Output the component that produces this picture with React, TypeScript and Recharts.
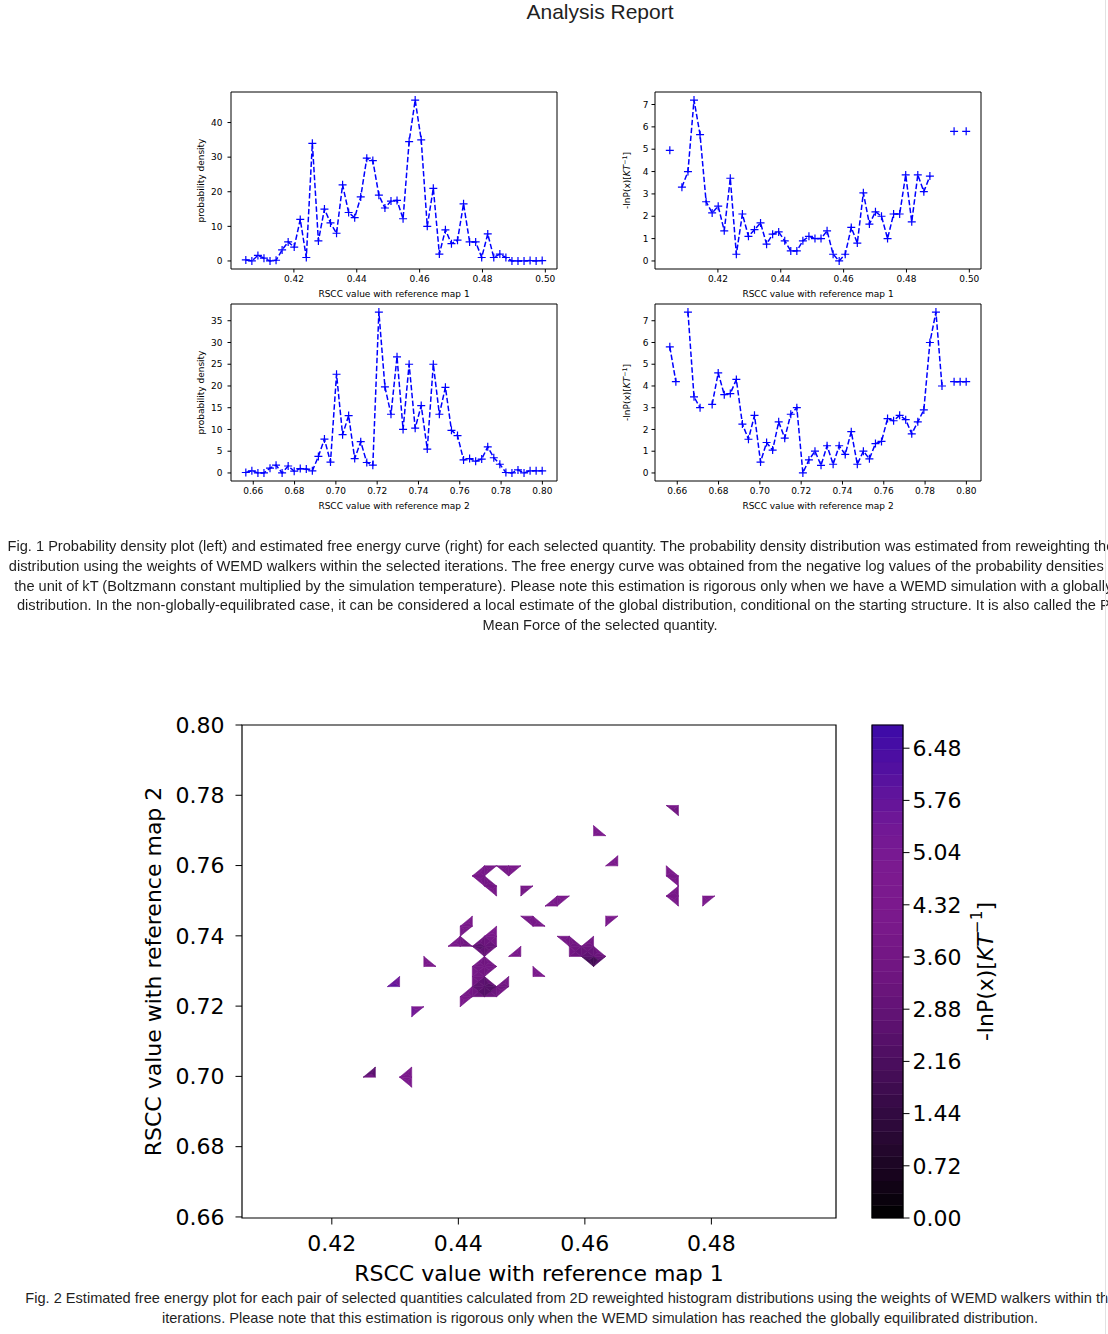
import React from "react";
import {
  ComposedChart,
  Line,
  LineChart,
  ReferenceArea,
  Scatter,
  XAxis,
  YAxis,
} from "recharts";

const FONT_MPL = "'DejaVu Sans', sans-serif";
const FONT_PAGE = "'Liberation Sans', Arial, Helvetica, sans-serif";

// regular histogram bin centres
const linspace = (lo: number, hi: number, n: number) =>
  Array.from({ length: n }, (_, k) => lo + ((hi - lo) * k) / (n - 1));

// ---- 1D data (bin centres) ----
const rsccMap1 = linspace(0.4047, 0.499, 50);
const rsccMap2 = linspace(0.6564, 0.7999, 50);

const densityMap1 = [
  0.3, 0, 1.6, 0.8, 0, 0.2, 3.2, 5.5, 4, 12,
  1, 34, 5.8, 15, 11, 8, 22, 14, 12.5, 18.5,
  29.7, 29, 19, 15.3, 17.3, 17.5, 12.2, 34.5, 46.5, 35,
  10, 21, 2, 9, 5, 6, 16.5, 5.5, 5.5, 1,
  7.8, 1, 2, 1, 0, 0, 0, 0.1, 0, 0.1,
];

const freeEnergyMap1 = [
  4.95, null, 3.3, 4.0, 7.2, 5.65, 2.65, 2.15, 2.45, 1.35,
  3.7, 0.3, 2.1, 1.1, 1.4, 1.7, 0.75, 1.2, 1.3, 0.9,
  0.45, 0.45, 0.9, 1.1, 1.0, 1.0, 1.35, 0.3, 0, 0.3,
  1.5, 0.8, 3.05, 1.65, 2.2, 2.0, 1.0, 2.1, 2.1, 3.85,
  1.75, 3.85, 3.1, 3.8, null, null, null, 5.8, null, 5.8,
];

const densityMap2 = [
  0.1, 0.5, 0, 0, 1.1, 1.8, 0, 1.6, 0.4, 1.0,
  0.9, 0.5, 3.8, 7.8, 2.5, 22.7, 8.8, 13.2, 3.3, 7.2,
  2.4, 1.8, 37, 19.8, 13.5, 26.7, 10, 25, 10.3, 15.5,
  5.5, 25, 13.5, 19.7, 9.8, 8.6, 3, 3.3, 2.7, 3.2,
  6, 3.5, 2, 0.1, 0, 0.7, 0, 0.5, 0.5, 0.5,
];

const freeEnergyMap2 = [
  5.8, 4.2, null, 7.4, 3.5, 3.0, null, 3.15, 4.6, 3.6,
  3.65, 4.3, 2.25, 1.55, 2.65, 0.5, 1.4, 1.05, 2.35, 1.6,
  2.7, 3.0, 0, 0.6, 1.0, 0.35, 1.25, 0.4, 1.25, 0.85,
  1.9, 0.4, 1.0, 0.65, 1.35, 1.45, 2.5, 2.4, 2.65, 2.45,
  1.8, 2.35, 2.9, 6.0, 7.4, 4.0, null, 4.2, 4.2, 4.2,
];

const map1Ticks = [0.42, 0.44, 0.46, 0.48, 0.5];
const map2Ticks = [0.66, 0.68, 0.7, 0.72, 0.74, 0.76, 0.78, 0.8];
const density1Ticks = [0, 10, 20, 30, 40];
const density2Ticks = [0, 5, 10, 15, 20, 25, 30, 35];
const energyTicks = [0, 1, 2, 3, 4, 5, 6, 7];

// ---- 2D free energy (grid point index x, index y, value) ----
const grid2dX = linspace(0.4058, 0.4997, 50);
const grid2dY = linspace(0.6597, 0.8, 50);
const map2dTicksX = [0.42, 0.44, 0.46, 0.48];

const fe2d: [number, number, number][] = [
  [36, 40, 2.6], [35, 41, 4.2], [36, 41, 4.0],
  [29, 38, 4.2], [30, 38, 4.0], [29, 39, 4.5],
  [30, 35, 4.0], [31, 35, 4.0], [31, 36, 4.3],
  [35, 35, 4.2], [35, 34, 4.0], [36, 34, 4.0], [36, 33, 3.8], [35, 32, 4.0], [36, 32, 3.8], [36, 31, 4.0],
  [38, 31, 4.2], [38, 32, 4.0], [39, 32, 4.3],
  [20, 35, 4.0], [21, 35, 3.8], [22, 35, 4.0], [23, 35, 4.2], [19, 34, 4.2], [20, 34, 3.6],
  [22, 34, 3.8], [20, 33, 3.8], [21, 33, 3.6], [21, 32, 4.0],
  [23, 32, 3.2], [23, 33, 4.0], [24, 33, 4.2],
  [25, 31, 4.0], [26, 31, 4.0], [26, 32, 4.0], [27, 32, 4.2],
  [30, 29, 4.2], [30, 30, 4.0], [31, 30, 4.2],
  [23, 30, 4.0], [24, 30, 3.8], [24, 29, 3.8], [25, 29, 4.2],
  [19, 30, 4.2], [18, 29, 4.0], [19, 29, 3.8], [21, 29, 4.2], [18, 28, 3.8], [20, 28, 4.0], [21, 28, 4.0],
  [17, 27, 4.2], [18, 27, 3.8], [19, 27, 2.8], [20, 27, 2.2], [21, 27, 3.5],
  [20, 26, 3.5], [19, 25, 4.0], [20, 25, 3.2], [21, 25, 4.0], [19, 24, 3.8], [20, 24, 3.5],
  [19, 23, 3.6], [20, 23, 1.5], [21, 23, 3.0], [22, 23, 3.8], [22, 24, 4.0],
  [18, 22, 4.0], [19, 22, 3.8], [20, 22, 3.0], [21, 22, 3.8], [18, 21, 4.2],
  [22, 26, 4.2], [23, 26, 4.0], [23, 27, 4.0],
  [24, 24, 4.2], [25, 24, 4.0], [24, 25, 4.2],
  [26, 28, 4.0], [27, 28, 3.8], [29, 28, 4.0], [27, 27, 3.5], [28, 27, 3.2], [29, 27, 3.5],
  [27, 26, 3.8], [28, 26, 2.8], [29, 26, 2.5], [30, 26, 3.8], [29, 25, 1.0],
  [15, 25, 4.2], [16, 25, 4.0], [15, 26, 4.0],
  [12, 23, 6.4], [13, 23, 5.6], [13, 24, 4.8],
  [14, 20, 6.0], [14, 21, 5.2], [15, 21, 4.2],
  [10, 14, 4.2], [11, 14, 4.0], [11, 15, 0.8],
  [13, 14, 4.2], [14, 14, 4.0], [14, 15, 4.0], [14, 13, 4.2],
];

const colorbarTicks = [0, 0.72, 1.44, 2.16, 2.88, 3.6, 4.32, 5.04, 5.76, 6.48];
const colorbarMax = 6.8;
const colorbarLevels = linspace(0, colorbarMax, 41);

// dark -> purple -> violet map used by the contour plot
const cmapStops: [number, number[]][] = [
  [0.0, [0, 0, 0]],
  [0.1, [27, 5, 34]],
  [0.2, [47, 10, 61]],
  [0.3, [71, 13, 90]],
  [0.4, [95, 18, 114]],
  [0.5, [112, 22, 129]],
  [0.6, [122, 25, 139]],
  [0.7, [124, 26, 143]],
  [0.8, [112, 24, 150]],
  [0.9, [85, 17, 159]],
  [1.0, [60, 10, 168]],
];

const cmap = (v: number) => {
  const t = Math.max(0, Math.min(1, v / colorbarMax));
  for (let k = 1; k < cmapStops.length; k++) {
    const [t1, c1] = cmapStops[k];
    const [t0, c0] = cmapStops[k - 1];
    if (t <= t1) {
      const f = (t - t0) / (t1 - t0);
      const c = c0.map((a, n) => Math.round(a + (c1[n] - a) * f));
      return `rgb(${c[0]},${c[1]},${c[2]})`;
    }
  }
  return "rgb(60,10,168)";
};

const padDomain = (vals: (number | null)[]): [number, number] => {
  const v = vals.filter((a): a is number => a != null);
  const lo = Math.min(...v);
  const hi = Math.max(...v);
  const p = (hi - lo) * 0.05;
  return [lo - p, hi + p];
};

// cells of the 2D grid that have at least 3 valid corners
const feLookup = new Map<string, number>();
fe2d.forEach(([i, j, v]) => feLookup.set(`${i},${j}`, v));
const getFe = (i: number, j: number) => {
  const v = feLookup.get(`${i},${j}`);
  return v === undefined ? null : v;
};
const cells: { i: number; j: number; c: (number | null)[] }[] = [];
for (let i = 0; i < grid2dX.length - 1; i++) {
  for (let j = 0; j < grid2dY.length - 1; j++) {
    const c = [getFe(i, j), getFe(i + 1, j), getFe(i + 1, j + 1), getFe(i, j + 1)];
    if (c.filter((a) => a != null).length >= 3) cells.push({ i, j, c });
  }
}

const CellShape = (props: any) => {
  const { x, y, width, height, c } = props;
  if (x == null || width == null) return <g />;
  const corners = [
    [x, y + height],
    [x + width, y + height],
    [x + width, y],
    [x, y],
  ];
  const pts: { p: number[]; v: number }[] = [];
  c.forEach((v: number | null, k: number) => {
    if (v != null) pts.push({ p: corners[k], v });
  });
  const cx = pts.reduce((s, a) => s + a.p[0], 0) / pts.length;
  const cy = pts.reduce((s, a) => s + a.p[1], 0) / pts.length;
  const cv = pts.reduce((s, a) => s + a.v, 0) / pts.length;
  return (
    <g>
      {pts.map((a, k) => {
        const b = pts[(k + 1) % pts.length];
        const col = cmap((a.v + b.v + cv) / 3);
        return (
          <polygon
            key={k}
            points={`${a.p[0]},${a.p[1]} ${b.p[0]},${b.p[1]} ${cx},${cy}`}
            fill={col}
            stroke={col}
            strokeWidth={0.6}
            strokeLinejoin="round"
          />
        );
      })}
    </g>
  );
};

const PlusDot = (props: any) => {
  const { cx, cy, payload } = props;
  if (cx == null || cy == null || payload == null || payload.y == null) return <g />;
  const r = 4;
  return (
    <path
      d={`M${cx - r},${cy}H${cx + r}M${cx},${cy - r}V${cy + r}`}
      stroke="#0000ff"
      strokeWidth={1.2}
      fill="none"
    />
  );
};

const VLabel = (props: any) => {
  const { viewBox, dx, size, text, energy } = props;
  const x = viewBox.x + dx;
  const y = viewBox.y + viewBox.height / 2;
  return (
    <text
      x={x}
      y={y}
      transform={`rotate(-90 ${x} ${y})`}
      textAnchor="middle"
      dominantBaseline="central"
      fontSize={size}
      fontFamily={FONT_MPL}
      fill="#000"
    >
      {energy ? (
        <>
          <tspan>-lnP(x)[</tspan>
          <tspan fontStyle="italic">KT</tspan>
          <tspan dy={-size * 0.38} fontSize={size * 0.7}>
            −1
          </tspan>
          <tspan dy={size * 0.38}>]</tspan>
        </>
      ) : (
        text
      )}
    </text>
  );
};

const HLabel = (props: any) => {
  const { viewBox, dy, size, text } = props;
  return (
    <text
      x={viewBox.x + viewBox.width / 2}
      y={viewBox.y + dy}
      textAnchor="middle"
      dominantBaseline="central"
      fontSize={size}
      fontFamily={FONT_MPL}
      fill="#000"
    >
      {text}
    </text>
  );
};

interface SmallPlotProps {
  left: number;
  top: number;
  xs: number[];
  ys: (number | null)[];
  xTicks: number[];
  yTicks: number[];
  xLabel: string;
  yLabel: string;
  energy?: boolean;
  yAxisWidth: number;
  yLabelDx: number;
}

const SmallPlot: React.FC<SmallPlotProps> = ({
  left,
  top,
  xs,
  ys,
  xTicks,
  yTicks,
  xLabel,
  yLabel,
  energy,
  yAxisWidth,
  yLabelDx,
}) => {
  const data = xs.map((x, k) => ({ x, y: ys[k] }));
  const xd = padDomain(xs);
  const yd = padDomain(ys);
  const tickStyle = { fontSize: 9, fill: "#000", fontFamily: FONT_MPL };
  return (
    <div style={{ position: "absolute", left, top }}>
      <LineChart
        width={375}
        height={215}
        data={data}
        margin={{ top: 7, right: 375 - yAxisWidth - 326, left: 0, bottom: 0 }}
      >
        <XAxis
          type="number"
          dataKey="x"
          domain={xd}
          ticks={xTicks}
          interval={0}
          tickFormatter={(v: number) => v.toFixed(2)}
          tick={tickStyle}
          tickLine={{ stroke: "#000" }}
          tickSize={3.5}
          tickMargin={3}
          axisLine={false}
          height={31}
          label={<HLabel dy={25} size={9} text={xLabel} />}
        />
        <YAxis
          type="number"
          domain={yd}
          ticks={yTicks}
          interval={0}
          tick={tickStyle}
          tickLine={{ stroke: "#000" }}
          tickSize={3.5}
          tickMargin={energy ? 3 : 5}
          axisLine={false}
          width={yAxisWidth}
          label={<VLabel dx={yLabelDx} size={9} text={yLabel} energy={energy} />}
        />
        <ReferenceArea
          x1={xd[0]}
          x2={xd[1]}
          y1={yd[0]}
          y2={yd[1]}
          fill="none"
          stroke="#000"
          strokeWidth={1}
          ifOverflow="visible"
        />
        <Line
          type="linear"
          dataKey="y"
          stroke="#0000ff"
          strokeWidth={1.5}
          strokeDasharray="5.5 2.4"
          dot={<PlusDot />}
          activeDot={false}
          connectNulls={false}
          isAnimationActive={false}
        />
      </LineChart>
    </div>
  );
};

// caption lines as laid out in the report; shift nudges each centred line
const caption1 = [
  { text: "Fig. 1 Probability density plot (left) and estimated free energy curve (right) for each selected quantity. The probability density distribution was estimated from reweighting the histogram", shift: -5 },
  { text: "distribution using the weights of WEMD walkers within the selected iterations. The free energy curve was obtained from the negative log values of the probability densities in", shift: -36 },
  { text: "the unit of kT (Boltzmann constant multiplied by the simulation temperature). Please note this estimation is rigorous only when we have a WEMD simulation with a globally equilibrated", shift: 3 },
  { text: "distribution. In the non-globally-equilibrated case, it can be considered a local estimate of the global distribution, conditional on the starting structure. It is also called the Potential of", shift: -5 },
  { text: "Mean Force of the selected quantity.", shift: 0 },
];

const caption2 = [
  { text: "Fig. 2 Estimated free energy plot for each pair of selected quantities calculated from 2D reweighted histogram distributions using the weights of WEMD walkers within the selected", shift: 0 },
  { text: "iterations. Please note that this estimation is rigorous only when the WEMD simulation has reached the globally equilibrated distribution.", shift: 0 },
];

const bigTick = { fontSize: 22, fill: "#000", fontFamily: FONT_MPL };

const App: React.FC = () => {
  const x2d: [number, number] = [grid2dX[0], grid2dX[grid2dX.length - 1]];
  const y2d: [number, number] = [grid2dY[0], grid2dY[grid2dY.length - 1]];
  const scatterPts = fe2d.map(([i, j, v]) => ({ x: grid2dX[i], y: grid2dY[j], v }));

  return (
    <div
      style={{
        position: "fixed",
        left: 0,
        top: 0,
        width: 1200,
        height: 1334,
        fontFamily: FONT_PAGE,
        color: "#1f1f1f",
        background: "#fff",
      }}
    >
      <div
        style={{
          position: "absolute",
          left: 8,
          top: 0,
          width: 1184,
          textAlign: "center",
          fontSize: 21,
          lineHeight: "23px",
        }}
      >
        Analysis Report
      </div>

      <SmallPlot
        left={190}
        top={85}
        xs={rsccMap1}
        ys={densityMap1}
        xTicks={map1Ticks}
        yTicks={density1Ticks}
        xLabel="RSCC value with reference map 1"
        yLabel="probability density"
        yAxisWidth={41}
        yLabelDx={11}
      />
      <SmallPlot
        left={615}
        top={85}
        xs={rsccMap1}
        ys={freeEnergyMap1}
        xTicks={map1Ticks}
        yTicks={energyTicks}
        xLabel="RSCC value with reference map 1"
        yLabel=""
        energy
        yAxisWidth={40}
        yLabelDx={12}
      />
      <SmallPlot
        left={190}
        top={297}
        xs={rsccMap2}
        ys={densityMap2}
        xTicks={map2Ticks}
        yTicks={density2Ticks}
        xLabel="RSCC value with reference map 2"
        yLabel="probability density"
        yAxisWidth={41}
        yLabelDx={11}
      />
      <SmallPlot
        left={615}
        top={297}
        xs={rsccMap2}
        ys={freeEnergyMap2}
        xTicks={map2Ticks}
        yTicks={energyTicks}
        xLabel="RSCC value with reference map 2"
        yLabel=""
        energy
        yAxisWidth={40}
        yLabelDx={12}
      />

      <div
        style={{
          position: "absolute",
          left: 8,
          top: 537,
          width: 1184,
          fontSize: 14.6,
          lineHeight: "19.75px",
        }}
      >
        {caption1.map((t, k) => (
          <div
            key={k}
            style={{
              position: "relative",
              left: t.shift,
              textAlign: "center",
              whiteSpace: "nowrap",
            }}
          >
            {t.text}
          </div>
        ))}
      </div>

      <div style={{ position: "absolute", left: 130, top: 715 }}>
        <ComposedChart
          width={716}
          height={575}
          margin={{ top: 10, right: 10, left: 0, bottom: 0 }}
        >
          <XAxis
            type="number"
            dataKey="x"
            domain={x2d}
            ticks={map2dTicksX}
            interval={0}
            tickFormatter={(v: number) => v.toFixed(2)}
            tick={bigTick}
            tickLine={{ stroke: "#000" }}
            tickSize={6.5}
            tickMargin={11}
            axisLine={false}
            height={72}
            label={<HLabel dy={55} size={22} text="RSCC value with reference map 1" />}
          />
          <YAxis
            type="number"
            dataKey="y"
            domain={y2d}
            ticks={map2Ticks}
            interval={0}
            tickFormatter={(v: number) => v.toFixed(2)}
            tick={bigTick}
            tickLine={{ stroke: "#000" }}
            tickSize={6.5}
            tickMargin={11}
            axisLine={false}
            width={112}
            label={<VLabel dx={23} size={22} text="RSCC value with reference map 2" />}
          />
          {cells.map((cell) => (
            <ReferenceArea
              key={`${cell.i}-${cell.j}`}
              x1={grid2dX[cell.i]}
              x2={grid2dX[cell.i + 1]}
              y1={grid2dY[cell.j]}
              y2={grid2dY[cell.j + 1]}
              ifOverflow="visible"
              shape={(p: any) => <CellShape {...p} c={cell.c} />}
            />
          ))}
          <ReferenceArea
            x1={x2d[0]}
            x2={x2d[1]}
            y1={y2d[0]}
            y2={y2d[1]}
            fill="none"
            stroke="#000"
            strokeWidth={1.2}
            ifOverflow="visible"
          />
          <Scatter
            data={scatterPts}
            dataKey="y"
            shape={() => <g />}
            isAnimationActive={false}
          />
        </ComposedChart>
      </div>

      <div style={{ position: "absolute", left: 860, top: 715 }}>
        <ComposedChart
          width={150}
          height={513}
          margin={{ top: 10, right: 0, left: 12, bottom: 10 }}
        >
          <XAxis type="number" dataKey="x" domain={[0, 1]} hide />
          <YAxis
            type="number"
            dataKey="y"
            orientation="right"
            domain={[0, colorbarMax]}
            ticks={colorbarTicks}
            interval={0}
            tickFormatter={(v: number) => v.toFixed(2)}
            tick={bigTick}
            tickLine={{ stroke: "#000" }}
            tickSize={6.5}
            tickMargin={3}
            axisLine={false}
            width={107}
            label={<VLabel dx={82} size={22} energy />}
          />
          {colorbarLevels.slice(0, -1).map((lv, k) => {
            const col = cmap((lv + colorbarLevels[k + 1]) / 2);
            return (
              <ReferenceArea
                key={k}
                x1={0}
                x2={1}
                y1={lv}
                y2={colorbarLevels[k + 1]}
                fill={col}
                fillOpacity={1}
                stroke={col}
                strokeWidth={0.5}
                ifOverflow="visible"
              />
            );
          })}
          <ReferenceArea
            x1={0}
            x2={1}
            y1={0}
            y2={colorbarMax}
            fill="none"
            stroke="#000"
            strokeWidth={1.2}
            ifOverflow="visible"
          />
          <Scatter
            data={[{ x: 0.5, y: 0 }]}
            dataKey="y"
            shape={() => <g />}
            isAnimationActive={false}
          />
        </ComposedChart>
      </div>

      <div
        style={{
          position: "absolute",
          left: 8,
          top: 1288,
          width: 1184,
          fontSize: 14.6,
          lineHeight: "20px",
        }}
      >
        {caption2.map((t, k) => (
          <div
            key={k}
            style={{
              position: "relative",
              left: t.shift,
              textAlign: "center",
              whiteSpace: "nowrap",
            }}
          >
            {t.text}
          </div>
        ))}
      </div>

      <div
        style={{
          position: "absolute",
          left: 1105,
          top: 0,
          width: 1,
          height: 1334,
          background: "#e2e2e2",
        }}
      />
    </div>
  );
};

export default App;
